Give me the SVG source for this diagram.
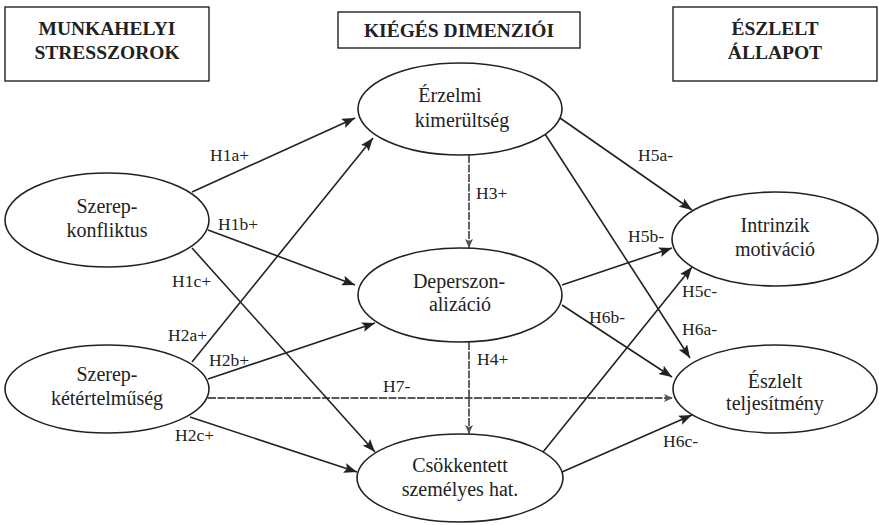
<svg xmlns="http://www.w3.org/2000/svg" width="879" height="525" viewBox="0 0 879 525">
  <style>
    .hdr { fill: #fff; stroke: #222; stroke-width: 1.4; }
    .hdrt { font-family: "Liberation Serif", serif; font-weight: bold; font-size: 19.5px; fill: #222; text-anchor: middle; }
    .node ellipse { fill: #fff; stroke: #222; stroke-width: 1.6; }
    .nt { font-family: "Liberation Serif", serif; font-size: 20px; fill: #222; text-anchor: middle; }
    .edge { fill: none; stroke: #222; stroke-width: 1.6; marker-end: url(#arr); }
    .dash { fill: none; stroke: #222; stroke-width: 1.4; stroke-dasharray: 8 1.5; marker-end: url(#arrs); }
    .lbl { font-family: "Liberation Serif", serif; font-size: 17.5px; fill: #222; }
  </style>
  <defs>
    <marker id="arr" markerUnits="userSpaceOnUse" markerWidth="13" markerHeight="10" refX="13" refY="5" orient="auto">
      <path d="M0,0 L13,5 L0,10 L2.5,5 Z" fill="#222"/>
    </marker>
    <marker id="arrs" markerUnits="userSpaceOnUse" markerWidth="9" markerHeight="8" refX="9" refY="4" orient="auto">
      <path d="M0,0 L9,4 L0,8 L2,4 Z" fill="#555"/>
    </marker>
  </defs>
  <rect width="879" height="525" fill="#fff"/>

  <g id="hdr-munkahelyi">
    <rect class="hdr" x="5" y="7" width="204" height="74"/>
    <text class="hdrt" x="107" y="35">MUNKAHELYI</text>
    <text class="hdrt" x="107" y="59">STRESSZOROK</text>
  </g>
  <g id="hdr-kieges">
    <rect class="hdr" x="338" y="12" width="242" height="36"/>
    <text class="hdrt" x="459" y="37">KIÉGÉS DIMENZIÓI</text>
  </g>
  <g id="hdr-eszlelt">
    <rect class="hdr" x="673" y="7" width="204" height="74"/>
    <text class="hdrt" x="775" y="35">ÉSZLELT</text>
    <text class="hdrt" x="775" y="59">ÁLLAPOT</text>
  </g>

  <g id="connectors">
    <path class="edge" d="M192,192 L355,118"/>
    <path class="edge" d="M208,230 L355,285"/>
    <path class="edge" d="M192,248 L375,452"/>
    <path class="edge" d="M192,362 L373,138"/>
    <path class="edge" d="M208,379 L375,323"/>
    <path class="edge" d="M190,417 L357,472"/>
    <path class="dash" d="M208,398 L673,398"/>
    <path class="dash" d="M469,155 L469,248"/>
    <path class="dash" d="M469,342 L469,434"/>
    <path class="edge" d="M560,118 L692,210"/>
    <path class="edge" d="M545,134 L690,358"/>
    <path class="edge" d="M562,285 L672,248"/>
    <path class="edge" d="M562,305 L672,377"/>
    <path class="edge" d="M543,452 L692,267"/>
    <path class="edge" d="M562,472 L692,415"/>
    <text class="lbl" x="210" y="161">H1a+</text>
    <text class="lbl" x="218" y="230">H1b+</text>
    <text class="lbl" x="172" y="287">H1c+</text>
    <text class="lbl" x="168" y="341">H2a+</text>
    <text class="lbl" x="209" y="366">H2b+</text>
    <text class="lbl" x="383" y="392">H7-</text>
    <text class="lbl" x="175" y="441">H2c+</text>
    <text class="lbl" x="476" y="199">H3+</text>
    <text class="lbl" x="477" y="365">H4+</text>
    <text class="lbl" x="638" y="161">H5a-</text>
    <text class="lbl" x="628" y="242">H5b-</text>
    <text class="lbl" x="682" y="297">H5c-</text>
    <text class="lbl" x="589" y="323">H6b-</text>
    <text class="lbl" x="682" y="335">H6a-</text>
    <text class="lbl" x="663" y="447">H6c-</text>
  </g>

  <g id="szerepkonfliktus" class="node">
    <ellipse cx="107" cy="220" rx="102" ry="47"/>
    <text class="nt" x="107" y="213">Szerep-</text>
    <text class="nt" x="107" y="237">konfliktus</text>
  </g>
  <g id="szerepketertelmuseg" class="node">
    <ellipse cx="107" cy="389" rx="102" ry="44"/>
    <text class="nt" x="107" y="381">Szerep-</text>
    <text class="nt" x="107" y="405">kétértelműség</text>
  </g>
  <g id="erzelmi" class="node">
    <ellipse cx="460" cy="109" rx="102" ry="46"/>
    <text class="nt" x="450" y="102">Érzelmi</text>
    <text class="nt" x="462" y="127">kimerültség</text>
  </g>
  <g id="deperszonalizacio" class="node">
    <ellipse cx="460" cy="295" rx="102" ry="47"/>
    <text class="nt" x="459" y="288">Deperszon-</text>
    <text class="nt" x="460" y="311">alizáció</text>
  </g>
  <g id="csokkentett" class="node">
    <ellipse cx="460" cy="478" rx="103" ry="44"/>
    <text class="nt" x="460" y="472">Csökkentett</text>
    <text class="nt" x="460" y="496">személyes hat.</text>
  </g>
  <g id="intrinzik" class="node">
    <ellipse cx="775" cy="239" rx="103" ry="47"/>
    <text class="nt" x="775" y="232">Intrinzik</text>
    <text class="nt" x="775" y="256">motiváció</text>
  </g>
  <g id="eszlelt" class="node">
    <ellipse cx="775" cy="389" rx="102" ry="44"/>
    <text class="nt" x="775" y="388">Észlelt</text>
    <text class="nt" x="775" y="410">teljesítmény</text>
  </g>
</svg>
